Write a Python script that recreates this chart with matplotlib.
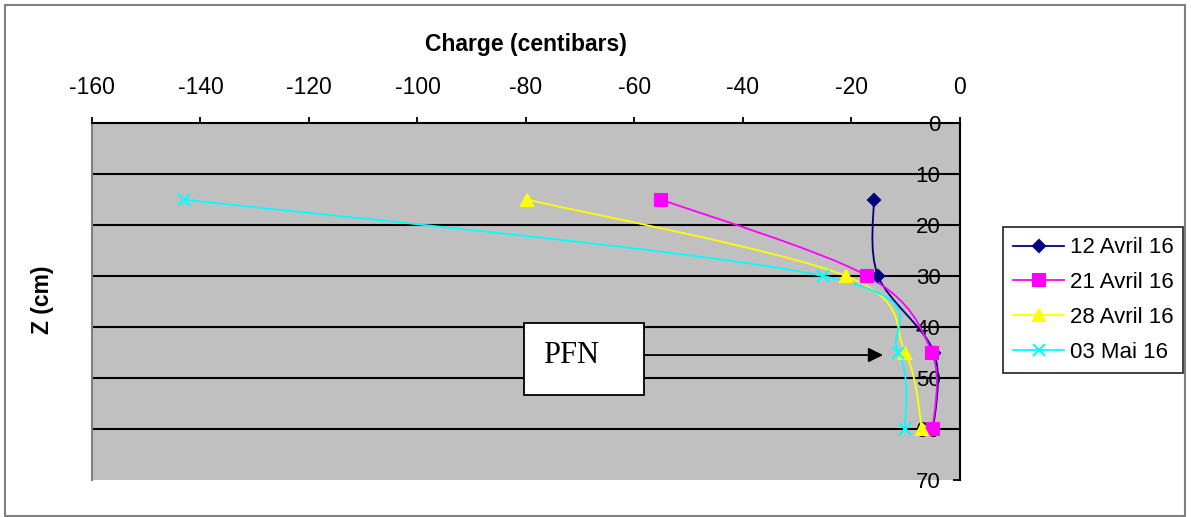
import numpy as np
import matplotlib
matplotlib.use("Agg")
import matplotlib.pyplot as plt
from matplotlib.path import Path
from matplotlib.patches import PathPatch, Rectangle
from matplotlib.lines import Line2D

plt.rcParams['font.family'] = ['Liberation Sans', 'DejaVu Sans']

# Depth of the tensiometers (cm)
depths = [15, 30, 45, 60]

# Soil water tension (centibars) per measurement date
series_labels = ["12 Avril 16", "21 Avril 16", "28 Avril 16", "03 Mai 16"]
avr12 = [-15.9, -15.1, -4.8, -4.9]
avr21 = [-55.1, -17.1, -5.2, -5.0]
avr28 = [-79.8, -21.0, -10.1, -7.0]
mai03 = [-143.0, -25.3, -11.4, -10.1]

x_ticks = [-160, -140, -120, -100, -80, -60, -40, -20, 0]
y_ticks = [0, 10, 20, 30, 40, 50, 60, 70]

colors = ["#000080", "#FF00FF", "#FFFF00", "#00FFFF"]
markers = ["D", "s", "^", "x"]
msizes = [6, 8, 8, 8]


def smooth_path(xs, ys):
    """Bezier path through the points (Catmull-Rom style control points)."""
    pts = np.column_stack([xs, ys]).astype(float)
    n = len(pts)
    verts = [pts[0]]
    codes = [Path.MOVETO]
    for i in range(n - 1):
        p0 = pts[i - 1] if i > 0 else pts[i]
        p1 = pts[i]
        p2 = pts[i + 1]
        p3 = pts[i + 2] if i + 2 < n else pts[i + 1]
        c1 = p1 + (p2 - p0) / 6.0
        c2 = p2 - (p3 - p1) / 6.0
        verts += [c1, c2, p2]
        codes += [Path.CURVE4] * 3
    return Path(verts, codes)


fig = plt.figure(figsize=(11.91, 5.17), dpi=100)
fig.patch.set_facecolor("white")

# outer frame of the chart
fig.patches.append(Rectangle((5 / 1191, 1 / 517), 1180 / 1191, 511 / 517,
                             transform=fig.transFigure, fill=False,
                             edgecolor="#808080", linewidth=1.5))

ax = fig.add_axes([92 / 1191, 1 - 480 / 517, 868 / 1191, 357 / 517])
ax.set_facecolor("#C0C0C0")
ax.set_xlim(-160, 0)
ax.set_ylim(70, 0)

# horizontal grid lines
for yv in y_ticks[1:-1]:
    ax.axhline(yv, color="black", linewidth=1.5, zorder=1)

handles = []
for vals, lab, col, mk, ms in zip([avr12, avr21, avr28, mai03], series_labels,
                                  colors, markers, msizes):
    ax.add_patch(PathPatch(smooth_path(vals, depths), facecolor="none",
                           edgecolor=col, linewidth=1.3, zorder=3))
    ax.plot(vals, depths, linestyle="none", marker=mk, color=col,
            markersize=ms, markeredgewidth=1.5, zorder=4)
    handles.append(Line2D([0], [0], color=col, marker=mk, markersize=ms,
                          linewidth=1.3, markeredgewidth=1.5, label=lab))

# PFN annotation
ax.add_patch(Rectangle((-80.4, 39.2), 22.2, 14.1, facecolor="white",
                       edgecolor="black", linewidth=1.3, zorder=5))
ax.text(-76.8, 45.6, "PFN", family=["Liberation Serif", "DejaVu Serif"],
        fontsize=22, ha="left", va="center", zorder=6)
ax.annotate("", xy=(-14.2, 45.5), xytext=(-58.2, 45.5),
            arrowprops=dict(arrowstyle="-|>", color="black", linewidth=1.3,
                            mutation_scale=22, shrinkA=0, shrinkB=0),
            zorder=6)

# spines
ax.spines["bottom"].set_visible(False)
ax.spines["left"].set_color("#808080")
ax.spines["left"].set_linewidth(1.5)
ax.spines["top"].set_linewidth(1.5)
ax.spines["right"].set_linewidth(1.5)

# x axis on top
ax.xaxis.tick_top()
ax.set_xticks(x_ticks)
ax.set_xticklabels([str(v) for v in x_ticks])
ax.tick_params(axis="x", direction="out", length=4, width=1.3, pad=13,
               labelsize=16.5)

# y axis labels just inside the right edge
ax.yaxis.tick_right()
ax.set_yticks(y_ticks)
ax.set_yticklabels([str(v) for v in y_ticks])
ax.tick_params(axis="y", direction="in", length=5, width=1.3, pad=-14,
               labelsize=16)
for lbl in ax.get_yticklabels():
    lbl.set_horizontalalignment("right")

fig.text(526 / 1191, 1 - 45 / 517, "Charge (centibars)", fontsize=16.5,
         fontweight="bold", ha="center", va="center")
fig.text(42 / 1191, 1 - 300 / 517, "Z (cm)", fontsize=16.5, fontweight="bold",
         rotation=90, ha="center", va="center")

leg = fig.legend(handles=handles, loc="center left",
                 bbox_to_anchor=(1003 / 1191, 1 - 300 / 517),
                 fontsize=16, frameon=True, fancybox=False,
                 edgecolor="black", handlelength=2.3, handletextpad=0.25,
                 borderpad=0.45, labelspacing=0.62, borderaxespad=0)
leg.get_frame().set_linewidth(1.3)

fig.savefig("out.png", dpi=100, facecolor="white")
